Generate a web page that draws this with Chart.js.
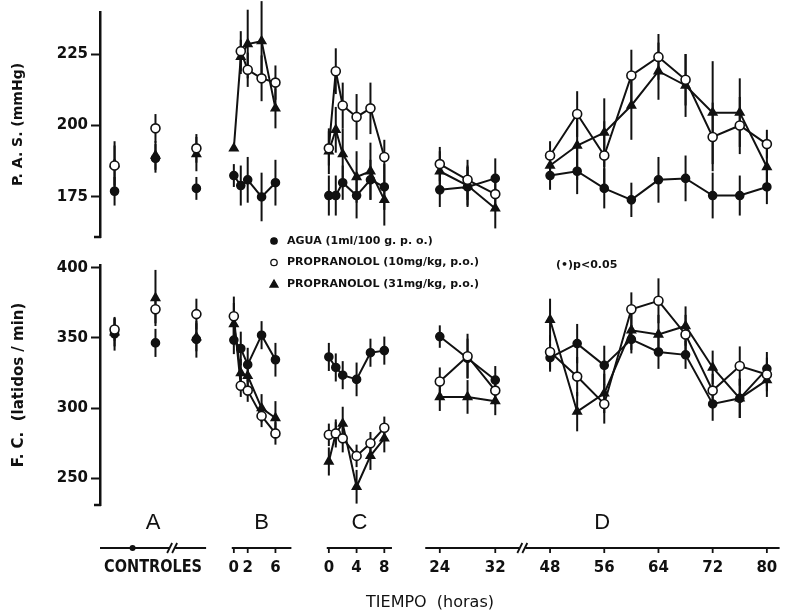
<!DOCTYPE html>
<html>
<head>
<meta charset="utf-8">
<script src="https://cdn.jsdelivr.net/npm/chart.js@4.4.1/dist/chart.umd.min.js"></script>
<style>
  body { margin: 0; background: #fff; }
  #wrap { position: relative; width: 786px; height: 614px; }
  #wrap canvas { position: absolute; left: 0; top: 0; }
</style>
</head>
<body>
<div id="wrap">
  <canvas id="chart-pas" width="786" height="614"></canvas>
  <canvas id="chart-fc" width="786" height="614"></canvas>
</div>
<script>
// --- data ---
const ctrlPos = [2.1, 8.0, 13.9];          // the three control readings on segment A
const timesB = [0, 1, 2, 4, 6];
const timesC = [0, 1, 2, 4, 6, 8];
const timesD1 = [24, 28, 32];
const timesD2 = [48, 52, 56, 60, 64, 68, 72, 76, 80];

const pasTicks = [175, 200, 225];
const fcTicks = [250, 300, 350, 400];
const ticksB = [0, 2, 6];
const ticksC = [0, 4, 8];
const ticksD1 = [24, 32];
const ticksD2 = [48, 56, 64, 72, 80];

// P.A.S. (mmHg)
const aguaPasCtrl = [177, 188.5, 178];
const aguaPasB = [182.5, 179, 181, 175, 180];
const aguaPasC = [175.5, 175.5, 180, 175.5, 181, 178.5];
const aguaPasD1 = [177.5, 178.5, 181.5];
const aguaPasD2 = [182.5, 184, 178, 174, 181, 181.5, 175.5, 175.5, 178.5];
const aguaPasErr = [[5, 5, 4], [4, 7, 8, 8.5, 8], [7, 7, 6, 8, 7, 8], [6, 7, 7], [5, 8, 7, 6, 8, 8, 8, 7, 6]];

const p10PasCtrl = [186, 199, 192];
const p10PasB = [null, 226, 219.5, 216.5, 215];
const p10PasC = [192, 219, 207, 203, 206, 189];
const p10PasD1 = [186.5, 181, 176];
const p10PasD2 = [189.5, 204, 189.5, 217.5, 224, 216, 196, 200, 193.5];
const p10PasErr = [[7, 5, 5], [0, 7, 6, 8, 6], [6, 8, 8, 8, 9, 6], [6, 7, 6], [5, 8, 12, 9, 8, 9, 12, 10, 5]];

const p31PasCtrl = [186.5, 189.5, 190];
const p31PasB = [192, 224, 228.5, 229.5, 206];
const p31PasC = [191, 198.5, 190, 182, 184, 174];
const p31PasD1 = [184, 179, 171];
const p31PasD2 = [186, 193, 197.5, 207, 219, 214, 204.5, 204.5, 185.5];
const p31PasErr = [[8, 5, 6], [0, 6, 12, 14, 7], [8, 8, 9, 9, 10, 9], [7, 7, 7], [5, 12, 12, 12, 10, 11, 18, 12, 8]];

// F.C. (latidos / min)
const aguaFcCtrl = [353, 346.5, 349];
const aguaFcB = [348.5, 342.5, 331, 352, 334.5];
const aguaFcC = [336.5, 329, 323.5, 320.5, 339.5, 341];
const aguaFcD1 = [351, 335.5, 320];
const aguaFcD2 = [336, 346, 330.5, 349, 340, 338, 303, 307, 328];
const aguaFcErr = [[12, 10, 13], [10, 12, 12, 10, 12], [10, 10, 10, 12, 10, 10], [8, 14, 10], [10, 14, 14, 10, 12, 10, 12, 14, 12]];

const p10FcCtrl = [356, 370.5, 367];
const p10FcB = [365.5, 316, 312.5, 294.5, 282];
const p10FcC = [281, 282, 278.5, 266, 275, 286];
const p10FcD1 = [319, 337, 312.5];
const p10FcD2 = [340, 322.5, 303, 370.5, 376.5, 352.5, 312.5, 330, 324];
const p10FcErr = [[8, 10, 11], [14, 8, 8, 8, 8], [8, 8, 10, 8, 8, 8], [10, 16, 10], [12, 14, 14, 12, 16, 14, 12, 14, 12]];

const p31FcCtrl = [354, 378.5, 350.5];
const p31FcB = [360, 325, 323, 300, 293];
const p31FcC = [262, 282, 289, 244, 266, 278.5];
const p31FcD1 = [308, 308, 305];
const p31FcD2 = [363, 297.5, 310.5, 355.5, 352.5, 358.5, 329, 307, 320];
const p31FcErr = [[10, 20, 10], [15, 10, 10, 10, 12], [10, 10, 12, 12, 10, 10], [10, 12, 10], [15, 14, 14, 14, 14, 14, 12, 14, 12]];

// --- broken time axis: where each segment sits on the x scale (1 unit ~ 1 hour) ---
const SEG = {
  B: { start: 19.3, t0: 0, k: 1 },
  C: { start: 33.0, t0: 0, k: 1 },
  D1: { start: 49.0, t0: 24, k: 1 },
  D2: { start: 64.9, t0: 48, k: 0.977 },
};
const pos = (seg, t) => SEG[seg].start + (t - SEG[seg].t0) * SEG[seg].k;

function buildSeries(ctrl, b, c, d1, d2, errs) {
  const data = [], err = [];
  ctrl.forEach((v, i) => {
    data.push({ x: ctrlPos[i], y: v }); err.push(errs[0][i]);
    data.push({ x: ctrlPos[i] + 0.01, y: null }); err.push(0);
  });
  [['B', timesB, b], ['C', timesC, c], ['D1', timesD1, d1], ['D2', timesD2, d2]].forEach(([s, ts, vs], k) => {
    ts.forEach((t, i) => { data.push({ x: pos(s, t), y: vs[i] }); err.push(errs[k + 1][i]); });
    data.push({ x: pos(s, ts[ts.length - 1]) + 0.01, y: null }); err.push(0);
  });
  return { data, err };
}

const INK = '#111';

function makeDataset(label, series, style) {
  return Object.assign({
    label,
    data: series.data,
    err: series.err,
    borderColor: INK,
    borderWidth: 2,
    pointBorderColor: INK,
    pointBorderWidth: 1.6,
    tension: 0,
    spanGaps: false,
  }, style);
}

const styleAgua = { pointStyle: 'circle', pointRadius: 4, pointBackgroundColor: INK };
const styleP10 = { pointStyle: 'circle', pointRadius: 4.5, pointBackgroundColor: '#fff' };
const styleP31 = { pointStyle: 'triangle', pointRadius: 4.8, pointBackgroundColor: INK };

// error bars under the marks
const errorBars = {
  id: 'errorBars',
  beforeDatasetsDraw(chart) {
    const { ctx, scales: { x, y } } = chart;
    ctx.save();
    ctx.strokeStyle = INK;
    ctx.lineWidth = 2;
    chart.data.datasets.forEach(ds => {
      ds.data.forEach((p, i) => {
        const e = ds.err[i];
        if (p.y == null || !e) return;
        const px = x.getPixelForValue(p.x);
        ctx.beginPath();
        ctx.moveTo(px, y.getPixelForValue(p.y - e));
        ctx.lineTo(px, y.getPixelForValue(p.y + e));
        ctx.stroke();
      });
    });
    ctx.restore();
  }
};

// small hook at the foot of each y axis
const axisFoot = {
  id: 'axisFoot',
  afterDraw(chart) {
    const { ctx, chartArea } = chart;
    ctx.save();
    ctx.strokeStyle = INK;
    ctx.lineWidth = 2.5;
    ctx.beginPath();
    ctx.moveTo(chartArea.left - 6, chartArea.bottom);
    ctx.lineTo(chartArea.left + 1, chartArea.bottom);
    ctx.stroke();
    ctx.restore();
  }
};

function fillTextFit(ctx, text, cx, cy, width) {
  const w = ctx.measureText(text).width;
  ctx.save();
  ctx.translate(cx, cy);
  ctx.scale(Math.min(1, width / w), 1);
  ctx.fillText(text, 0, 0);
  ctx.restore();
}

const legendBox = {
  id: 'legendBox',
  afterDraw(chart) {
    const { ctx } = chart;
    const rows = [
      ['circle', INK, 'AGUA (1ml/100 g. p. o.)'],
      ['circle', '#fff', 'PROPRANOLOL (10mg/kg, p.o.)'],
      ['triangle', INK, 'PROPRANOLOL (31mg/kg, p.o.)'],
    ];
    ctx.save();
    ctx.font = 'bold 11px "DejaVu Sans", sans-serif';
    ctx.textBaseline = 'middle';
    ctx.fillStyle = INK;
    rows.forEach(([shape, fill, text], i) => {
      const y = 241 + i * 21.5;
      ctx.fillStyle = fill;
      ctx.strokeStyle = INK;
      ctx.lineWidth = 1.3;
      ctx.beginPath();
      if (shape === 'circle') ctx.arc(274, y, 3.2, 0, Math.PI * 2);
      else { ctx.moveTo(274, y - 4); ctx.lineTo(278, y + 3); ctx.lineTo(270, y + 3); ctx.closePath(); }
      ctx.fill();
      ctx.stroke();
      ctx.fillStyle = INK;
      ctx.fillText(text, 287, y);
    });
    ctx.fillText('(\u2022)p<0.05', 556, 265);
    ctx.restore();
  }
};

// segmented time axis, drawn through the x scale
const timeAxis = {
  id: 'timeAxis',
  afterDraw(chart) {
    const { ctx, scales: { x } } = chart;
    const X = v => x.getPixelForValue(v);
    const yl = 548;
    ctx.save();
    ctx.strokeStyle = INK;
    ctx.fillStyle = INK;
    ctx.lineWidth = 1.8;
    const lines = [[0, 15.3], [19.0, 27.6], [32.7, 42.1], [46.9, 98]];
    lines.forEach(([a, b]) => {
      ctx.beginPath(); ctx.moveTo(X(a), yl); ctx.lineTo(X(b), yl); ctx.stroke();
    });
    const tickMark = px => { ctx.beginPath(); ctx.moveTo(px, yl); ctx.lineTo(px, yl + 5); ctx.stroke(); };
    const brk = px => {
      ctx.save();
      ctx.fillStyle = '#fff';
      ctx.fillRect(px - 3, yl - 2, 6, 4);
      ctx.restore();
      [-2.5, 2.5].forEach(d => {
        ctx.beginPath(); ctx.moveTo(px + d - 2.5, yl + 5); ctx.lineTo(px + d + 2.5, yl - 5); ctx.stroke();
      });
    };
    // segment A: controls
    ctx.beginPath(); ctx.arc(X(4.7), yl, 3, 0, Math.PI * 2); ctx.fill();
    brk(X(10.4));
    brk(X(60.9));

    ctx.font = 'bold 15px "DejaVu Sans", sans-serif';
    ctx.textAlign = 'center';
    ctx.textBaseline = 'middle';
    [['B', ticksB], ['C', ticksC], ['D1', ticksD1], ['D2', ticksD2]].forEach(([s, ts]) => {
      ts.forEach(t => {
        const px = X(pos(s, t));
        tickMark(px);
        ctx.fillText(String(t), px, 568);
      });
    });
    ctx.font = 'bold 17px "DejaVu Sans", sans-serif';
    fillTextFit(ctx, 'CONTROLES', X(7.65), 568, 98);

    ctx.font = '22px "Liberation Sans", sans-serif';
    [['A', 7.65], ['B', 23.3], ['C', 37.4], ['D', 72.4]].forEach(([l, v]) => ctx.fillText(l, X(v), 523));

    ctx.font = '16px "DejaVu Sans", sans-serif';
    ctx.fillText('TIEMPO  (horas)', 430, 603);
    ctx.restore();
  }
};

function yAxis(min, max, ticks, title, titleSize) {
  return {
    min, max,
    afterFit: s => { s.width = 100; },
    afterBuildTicks: s => { s.ticks = ticks.map(v => ({ value: v })); },
    ticks: { color: INK, padding: 3, font: { family: '"DejaVu Sans", sans-serif', size: 15, weight: 'bold' } },
    grid: { drawOnChartArea: false, tickLength: 9, tickColor: INK, tickWidth: 2 },
    border: { color: INK, width: 2.5 },
    title: {
      display: true, text: title, color: INK,
      padding: { top: 10, bottom: 0 },
      font: { family: '"DejaVu Sans", sans-serif', size: titleSize, weight: 'bold' },
    },
  };
}

function renderPanel(canvasId, datasets, yScale, padding, plugins) {
  return new Chart(document.getElementById(canvasId), {
    type: 'line',
    data: { datasets },
    options: {
      responsive: false,
      animation: false,
      layout: { padding },
      plugins: { legend: { display: false }, tooltip: { enabled: false } },
      scales: {
        x: { type: 'linear', min: 0, max: 98, display: false },
        y: yScale,
      },
    },
    plugins: [errorBars, axisFoot].concat(plugins),
  });
}

const pasSets = [
  makeDataset('PROPRANOLOL (10mg/kg, p.o.)', buildSeries(p10PasCtrl, p10PasB, p10PasC, p10PasD1, p10PasD2, p10PasErr), styleP10),
  makeDataset('PROPRANOLOL (31mg/kg, p.o.)', buildSeries(p31PasCtrl, p31PasB, p31PasC, p31PasD1, p31PasD2, p31PasErr), styleP31),
  makeDataset('AGUA (1ml/100 g. p. o.)', buildSeries(aguaPasCtrl, aguaPasB, aguaPasC, aguaPasD1, aguaPasD2, aguaPasErr), styleAgua),
];
const fcSets = [
  makeDataset('PROPRANOLOL (10mg/kg, p.o.)', buildSeries(p10FcCtrl, p10FcB, p10FcC, p10FcD1, p10FcD2, p10FcErr), styleP10),
  makeDataset('PROPRANOLOL (31mg/kg, p.o.)', buildSeries(p31FcCtrl, p31FcB, p31FcC, p31FcD1, p31FcD2, p31FcErr), styleP31),
  makeDataset('AGUA (1ml/100 g. p. o.)', buildSeries(aguaFcCtrl, aguaFcB, aguaFcC, aguaFcD1, aguaFcD2, aguaFcErr), styleAgua),
];

renderPanel('chart-pas', pasSets, yAxis(161, 239.7, pasTicks, 'P. A. S. (mmHg)', 14),
  { top: 12, bottom: 377, left: 0, right: 0 }, [legendBox]);
renderPanel('chart-fc', fcSets, yAxis(231, 402, fcTicks, 'F. C.  (latidos / min)', 15),
  { top: 265, bottom: 109, left: 0, right: 0 }, [timeAxis]);
</script>
</body>
</html>
